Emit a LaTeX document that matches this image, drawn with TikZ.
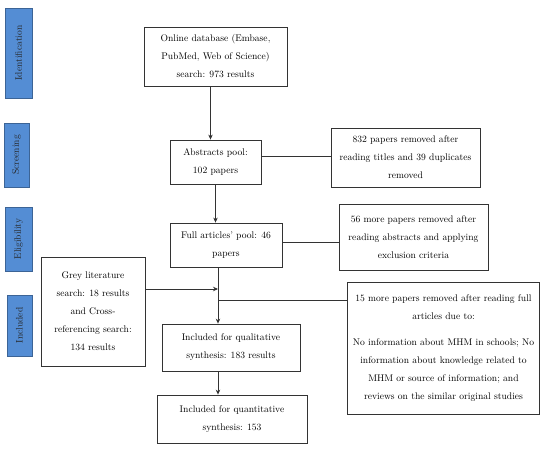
\documentclass[tikz,border=0pt]{standalone}
\usetikzlibrary{arrows.meta}
\definecolor{stageblue}{RGB}{84,141,212}
\definecolor{stageedge}{RGB}{60,100,150}
\begin{document}
\begin{tikzpicture}[x=1pt,y=-1pt,
  box/.style={draw=black!80,line width=0.8pt,fill=white,align=center,inner sep=0pt,
    font=\fontsize{9.6}{18}\selectfont},
  stage/.style={draw=stageedge,line width=0.6pt,fill=stageblue,inner sep=0pt,
    font=\fontsize{9.5}{10}\selectfont,text=black!85},
  conn/.style={line width=0.7pt,draw=black!80},
  arr/.style={conn,-{Stealth[length=5pt,width=4.5pt]}}]
\useasboundingbox (0,0) rectangle (550,450);
% stage labels
\node[stage,minimum width=27,minimum height=90] (sid) at (18.5,53) {\rotatebox{90}{Identification}};
\node[stage,minimum width=25,minimum height=64] (sscr) at (16.5,155) {\rotatebox{90}{Screening}};
\node[stage,minimum width=27,minimum height=64] (selig) at (18.5,239) {\rotatebox{90}{Eligibility}};
\node[stage,minimum width=25,minimum height=61] (sinc) at (19.5,325.5) {\rotatebox{90}{Included}};
% boxes
\node[box,minimum width=143,minimum height=59] (db) at (215.5,56.5)
  {Online database (Embase,\\PubMed, Web of Science)\\search: 973 results};
\node[box,minimum width=91,minimum height=44] (abs) at (215.5,162)
  {Abstracts pool:\\102 papers};
\node[box,minimum width=149,minimum height=59] (rem1) at (405.5,157.5)
  {832 papers removed after\\reading titles and 39 duplicates\\removed};
\node[box,minimum width=112,minimum height=44] (full) at (226,245)
  {Full articles' pool: 46\\papers};
\node[box,minimum width=149,minimum height=66] (rem2) at (413.5,237)
  {56 more papers removed after\\reading abstracts and applying\\exclusion criteria};
\node[box,minimum width=104,minimum height=109] (grey) at (93,311.5)
  {Grey literature\\search: 18 results\\and Cross-\\referencing search:\\134 results};
\node[box,minimum width=192,minimum height=132] (rem3) at (443.5,348.5)
  {15 more papers removed after reading full\\articles due to:\\[8pt]No information about MHM in schools; No\\information about knowledge related to\\MHM or source of information; and\\reviews on the similar original studies};
\node[box,minimum width=138,minimum height=47] (qual) at (231,347.5)
  {Included for qualitative\\synthesis: 183 results};
\node[box,minimum width=150,minimum height=48] (quant) at (232,419)
  {Included for quantitative\\synthesis: 153};
% junction coordinates
\coordinate (j1) at (218,289);
\coordinate (j2) at (218,300);
% connectors
\draw[arr] ([xshift=-5pt]db.south) -- ([xshift=-5pt]db.south |- abs.north);
\draw[conn] ([yshift=6pt]abs.east) -- ([yshift=6pt]abs.east -| rem1.west);
\draw[arr] (abs.south) -- (abs.south |- full.north);
\draw[conn] ([yshift=3pt]full.east) -- ([yshift=3pt]full.east -| rem2.west);
\draw[arr] (full.south -| j1) -- (j1 |- qual.north);
\draw[arr] (grey.east |- j1) -- (j1);
\draw[conn] (j2) -- (j2 -| rem3.west);
\draw[arr] (qual.south -| j1) -- (j1 |- quant.north);
\end{tikzpicture}
\end{document}
